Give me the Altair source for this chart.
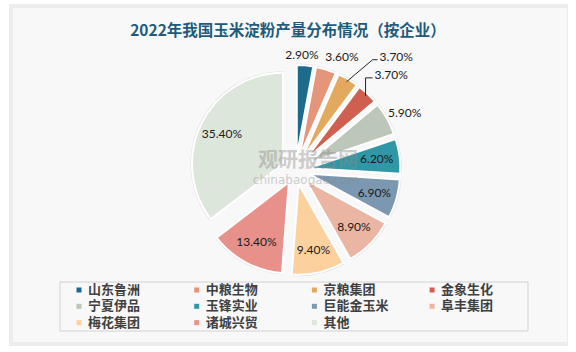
import json
import math
import altair as alt
import pandas as pd

# ---------------- data ----------------
NAMES = ["山东鲁洲", "中粮生物", "京粮集团", "金象生化", "宁夏伊品", "玉锋实业",
         "巨能金玉米", "阜丰集团", "梅花集团", "诸城兴贸", "其他"]
VALUES = [2.9, 3.6, 3.7, 3.7, 5.9, 6.2, 6.9, 8.9, 9.4, 13.4, 35.4]
COLORS = ["#1d6a8a", "#e4957a", "#e3a95e", "#cf5f4e", "#bcc6b9", "#2f97a6",
          "#7b98b0", "#eab5a2", "#fcd19e", "#e8918a", "#dde6da"]
TITLE = "2022年我国玉米淀粉产量分布情况（按企业）"
WATERMARK = ["观研报告网", "chinabaogao.com"]

# callout (leader line) styling for the labels drawn outside with a line
CALLOUT_NAMES = ["京粮集团", "金象生化"]
CALLOUT_DX = [26, 0]
CALLOUT_DY = [-22, -18]
CALLOUT_TAIL = [5, 7]

# small nudges for outside labels (style only)
NUDGE_NAMES = ["山东鲁洲", "中粮生物", "宁夏伊品"]
NUDGE_DX = [-4, 13, 2]
NUDGE_DY = [0, -3, 3]

# ---------------- layout constants ----------------
W, H = 576, 352
CX, CY, R, EXPLODE = 295.5, 170, 91, 14
FONT_CJK = "Noto Sans CJK SC"
LEG_X0, LEG_Y0, LEG_DX, LEG_DY, LEG_COLS = 79, 290, 117.7, 16.3, 4

df = pd.DataFrame({"name": NAMES, "value": VALUES, "order": list(range(len(NAMES)))})
leader_df = pd.DataFrame({"name": CALLOUT_NAMES, "ldx": CALLOUT_DX,
                          "ldy": CALLOUT_DY, "ltail": CALLOUT_TAIL})
nudge_df = pd.DataFrame({"name": NUDGE_NAMES, "ndx": NUDGE_DX, "ndy": NUDGE_DY})
callout_js = json.dumps(CALLOUT_NAMES, ensure_ascii=False)

color = alt.Color("name:N", sort=NAMES, scale=alt.Scale(domain=NAMES, range=COLORS), legend=None)

base = (
    alt.Chart(df)
    .transform_joinaggregate(total="sum(value)")
    .transform_window(cum="sum(value)", sort=[alt.SortField("order")], frame=[None, 0])
    .transform_calculate(
        c0="datum.cum - datum.value",
        mid="(datum.cum - datum.value / 2) / datum.total * 2 * PI",
    )
    .transform_calculate(
        ex=f"{CX} + {EXPLODE} * sin(datum.mid)",
        ey=f"{CY} - {EXPLODE} * cos(datum.mid)",
        label="format(datum.value, '.2f') + '%'",
        rl="datum.value >= 6 ? 68 : (datum.value < 3.65 ? 101 : 109)",
    )
)

theta = alt.Theta("c0:Q", scale=alt.Scale(domain=[0, 100], range=[0, 2 * math.pi]), stack=None)
xpos = alt.X("ex:Q", scale=None, axis=None)
ypos = alt.Y("ey:Q", scale=None, axis=None)

one = pd.DataFrame({"a": [0]})

# background panel
shadow_panel = alt.Chart(one).mark_rect(color="#ececec").encode(
    x=alt.value(9), x2=alt.value(568), y=alt.value(4), y2=alt.value(346))
panel = alt.Chart(one).mark_rect(color="#f8f8f8").encode(
    x=alt.value(13), x2=alt.value(567), y=alt.value(8), y2=alt.value(342))

shadow = base.mark_arc(radius=R + 1.5, color="#000000", opacity=0.10).encode(
    x=xpos, y=ypos, theta=theta, theta2="cum:Q")

arcs = base.mark_arc(radius=R, stroke="white", strokeWidth=2).encode(
    x=xpos, y=ypos, theta=theta, theta2="cum:Q", color=color,
    order=alt.Order("order:Q"),
    tooltip=["name:N", "value:Q"],
)

labels = (
    base.transform_filter(f"indexof({callout_js}, datum.name) < 0")
    .transform_lookup(lookup="name",
                      from_=alt.LookupData(nudge_df, "name", ["ndx", "ndy"]))
    .transform_calculate(
        lx="datum.ex + datum.rl * sin(datum.mid) + (isValid(datum.ndx) ? datum.ndx : 0)",
        ly="datum.ey - datum.rl * cos(datum.mid) + (isValid(datum.ndy) ? datum.ndy : 0)",
    )
    .mark_text(font="Lato", fontSize=12, color="#1a1a1a", align="center", baseline="middle")
    .encode(x=alt.X("lx:Q", scale=None, axis=None), y=alt.Y("ly:Q", scale=None, axis=None),
            text="label:N")
)

lead_base = (
    base.transform_lookup(lookup="name",
                          from_=alt.LookupData(leader_df, "name", ["ldx", "ldy", "ltail"]))
    .transform_filter("isValid(datum.ldx)")
    .transform_calculate(
        sx=f"datum.ex + {R - 3} * sin(datum.mid)",
        sy=f"datum.ey - {R - 3} * cos(datum.mid)",
    )
    .transform_calculate(
        elx="datum.sx + datum.ldx",
        ely="datum.sy + datum.ldy",
    )
    .transform_calculate(
        enx="datum.elx + datum.ltail",
        tx="datum.elx + datum.ltail + 2",
        ty="datum.sy + datum.ldy - 3",
    )
)

lead1 = lead_base.mark_rule(color="#262626", strokeWidth=1).encode(
    x=alt.X("sx:Q", scale=None, axis=None), y=alt.Y("sy:Q", scale=None, axis=None),
    x2="elx:Q", y2="ely:Q")
lead2 = lead_base.mark_rule(color="#262626", strokeWidth=1).encode(
    x=alt.X("elx:Q", scale=None, axis=None), y=alt.Y("ely:Q", scale=None, axis=None),
    x2="enx:Q", y2="ely:Q")
lead_text = lead_base.mark_text(font="Lato", fontSize=12, color="#1a1a1a",
                                align="left", baseline="middle").encode(
    x=alt.X("tx:Q", scale=None, axis=None), y=alt.Y("ty:Q", scale=None, axis=None),
    text="label:N")

# legend (grid of entries, row-major, 4 columns)
legend_box = alt.Chart(one).mark_rect(fill=None, stroke="#d2d2d2", strokeWidth=1).encode(
    x=alt.value(60), x2=alt.value(528), y=alt.value(282), y2=alt.value(331))

leg_base = alt.Chart(df).transform_calculate(
    gx=f"{LEG_X0} + (datum.order % {LEG_COLS}) * {LEG_DX}",
    gy=f"{LEG_Y0} + floor(datum.order / {LEG_COLS}) * {LEG_DY}",
).transform_calculate(tx="datum.gx + 9")

leg_sym = leg_base.mark_square(size=25, opacity=1).encode(
    x=alt.X("gx:Q", scale=None, axis=None), y=alt.Y("gy:Q", scale=None, axis=None),
    color=color)
leg_txt = leg_base.mark_text(font=FONT_CJK, fontSize=13, fontWeight="bold",
                             color="#404040", align="left", baseline="middle").encode(
    x=alt.X("tx:Q", scale=None, axis=None), y=alt.Y("gy:Q", scale=None, axis=None),
    text="name:N")

wm1 = alt.Chart(one).mark_text(font=FONT_CJK, fontSize=20, fontWeight="bold",
                               color="#8a8a8a", opacity=0.4).encode(
    x=alt.value(308), y=alt.value(161), text=alt.value(WATERMARK[0]))
wm2 = alt.Chart(one).mark_text(font="DejaVu Sans", fontSize=12,
                               color="#8a8a8a", opacity=0.4).encode(
    x=alt.value(306), y=alt.value(180), text=alt.value(WATERMARK[1]))

chart = alt.layer(
    shadow_panel, panel, legend_box, shadow, arcs, labels, lead1, lead2, lead_text,
    leg_sym, leg_txt, wm1, wm2
).properties(
    width=W, height=H,
    autosize=alt.AutoSizeParams(type="none"),
    padding=0,
    background="white",
    title=alt.TitleParams(
        TITLE, font=FONT_CJK, fontSize=15.5, fontWeight="bold", color="#1f5c7a",
        anchor="middle", frame="group", offset=0, baseline="middle", dy=46,
    ),
).configure_view(stroke=None)

chart.save("out.html", embed_options={"renderer": "svg", "actions": False})
